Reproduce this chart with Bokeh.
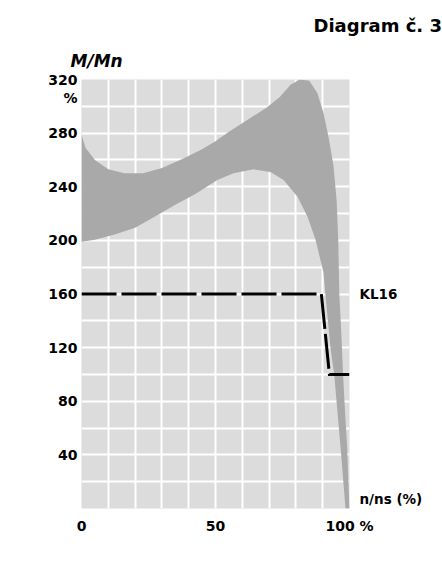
from bokeh.plotting import figure
from bokeh.models import FixedTicker, LinearAxis, Title
from bokeh.embed import file_html
from bokeh.resources import INLINE

# ---- data ----
upper_x = [0, 1.5, 5, 10, 16, 23, 30, 38, 45, 50, 55, 62, 69, 74, 78, 81.5, 85, 88, 90.3, 92.2, 94, 95.2, 95.8, 96.2, 96.9, 97.6, 98.4, 99.1, 99.6, 100]
upper_y = [279, 269, 260, 253, 250, 250, 254, 261, 268, 274, 281, 290, 299, 307, 316, 320, 319, 310, 295, 277, 256, 230, 200, 160, 133, 100, 70, 47, 20, 0]
lower_x = [0, 5, 12.7, 20, 27.6, 35, 42.5, 50.7, 56.7, 64.2, 70.5, 75.4, 80.6, 84.3, 87.3, 90.3, 91, 92.9, 94.3, 95.6, 96.6, 97.5, 98.5]
lower_y = [199, 200.5, 204.5, 209.5, 218, 226.5, 234.5, 245, 250, 253, 251, 245, 232.6, 217.8, 200.7, 176, 160, 120, 100, 70, 47, 25, 0]

kl_x = [0, 89.5, 92.5, 100]
kl_y = [160, 160, 100, 100]

x_ticks = [0, 50, 100]
x_tick_labels = {100: "100 %"}
y_ticks = [40, 80, 120, 160, 200, 240, 280, 306, 320]
y_tick_labels = {306: "%"}
right_ticks = [7, 160]
right_tick_labels = {160: "KL16", 7: "n/ns (%)"}

title_text = "Diagram č. 3"
y_title_text = "M/Mn"

FONT = "DejaVu Sans"

p = figure(width=442, height=568, output_backend="svg", toolbar_location=None,
           x_range=(0, 100), y_range=(0, 320),
           min_border_left=81, min_border_right=93, min_border_top=79, min_border_bottom=60)

p.background_fill_color = "#dcdcdc"
p.border_fill_color = "white"
p.outline_line_color = None

p.xgrid.ticker = FixedTicker(ticks=list(range(0, 101, 10)))
p.ygrid.ticker = FixedTicker(ticks=list(range(0, 321, 20)))
for g in (p.xgrid, p.ygrid):
    g.grid_line_color = "white"
    g.grid_line_width = 2

# band
band_x = upper_x + lower_x[::-1]
band_y = upper_y + lower_y[::-1]
p.patch(band_x, band_y, fill_color="#a9a9a9", line_color=None)

# KL16 line
p.line(kl_x, kl_y, line_color="black", line_width=3, line_dash="35 5", line_join="miter")

# axes
right_axis = LinearAxis(ticker=FixedTicker(ticks=right_ticks), major_label_overrides=right_tick_labels)
p.add_layout(right_axis, "right")

for ax in (p.xaxis[0], p.yaxis[0], right_axis):
    ax.axis_line_color = None
    ax.major_tick_line_color = None
    ax.minor_tick_line_color = None
    ax.major_tick_out = 0
    ax.major_tick_in = 0
    ax.major_label_text_font = FONT
    ax.major_label_text_font_style = "bold"
    ax.major_label_text_font_size = "14px"
    ax.major_label_text_color = "black"

p.xaxis.ticker = FixedTicker(ticks=x_ticks)
p.xaxis.major_label_overrides = x_tick_labels
p.xaxis.major_label_standoff = 9
p.yaxis[0].ticker = FixedTicker(ticks=y_ticks)
p.yaxis[0].major_label_overrides = y_tick_labels
p.yaxis[0].major_label_standoff = 4
right_axis.major_label_standoff = 10
right_axis.major_label_text_font_size = "13.5px"

# texts above the frame: the default title sits farther from the frame
p.title.text = title_text
p.title.align = "left"
p.title.offset = 232
p.title.text_font = FONT
p.title.text_font_style = "bold"
p.title.text_font_size = "18px"
p.title.text_color = "black"
p.title.vertical_align = "bottom"
p.title.standoff = 9

y_title = Title(text=y_title_text, align="left", offset=-11, text_font=FONT,
                text_font_style="bold italic", text_font_size="17px", text_color="black",
                vertical_align="bottom", standoff=17)
p.add_layout(y_title, "above")

open("out.html", "w").write(file_html(p, INLINE))
